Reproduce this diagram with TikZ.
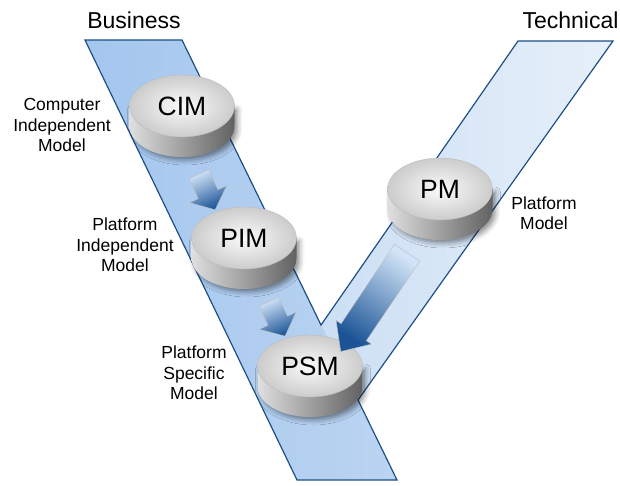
\documentclass[tikz,border=0pt]{standalone}
\usepackage{fontspec}
\setmainfont{Liberation Sans}
\usetikzlibrary{positioning,calc,shapes.geometric,shapes.arrows,shadows.blur}
\definecolor{bandleft}{HTML}{A4C6EE}
\definecolor{bandleftlight}{HTML}{BBD4F1}
\definecolor{bandright}{HTML}{CCDFF4}
\definecolor{bandrightlight}{HTML}{E7F0FA}
\definecolor{bandedge}{HTML}{1D4F87}
\definecolor{arrowtail}{HTML}{D2E4F7}
\definecolor{arrowtip}{HTML}{1B5496}

\begin{document}
\begin{tikzpicture}[x=1pt, y=1pt,
        disc/.style={ellipse, minimum width=105pt, minimum height=62pt, inner sep=0pt,
            inner color=gray!4, outer color=gray!40, draw=gray!55, line width=0.3pt,
            font=\fontsize{26.5}{30}\selectfont},
        discside/.style={left color=gray!25, middle color=gray!42, right color=black!62,
            blur shadow={shadow xshift=3pt, shadow yshift=-3pt, shadow blur radius=5pt, shadow opacity=45}},
        flow/.style={single arrow, sloped, allow upside down, inner sep=0pt, minimum width=0pt,
            text depth=0pt, top color=arrowtail, bottom color=arrowtip, draw=black!25, line width=0.4pt},
        note/.style={align=center, font=\fontsize{17.5}{20.5}\selectfont},
        heading/.style={font=\fontsize{23}{26}\selectfont}]
        \useasboundingbox (0,0) rectangle (620,-485);
        \shade[left color=bandright, right color=bandrightlight]
            (518,-41) -- (613,-41) -- (358,-400) -- (321,-325) -- cycle;
        \shade[left color=bandleft, right color=bandleftlight]
            (85,-40) -- (182,-40) -- (397,-480) -- (297,-480) -- cycle;
        \draw[bandedge, line width=1.2pt]
            (85,-40) -- (182,-40) -- (321,-325) -- (518,-41) -- (613,-41)
            -- (358,-400) -- (397,-480) -- (297,-480) -- cycle;
        \foreach \x/\y/\name/\txt in {182/-106/cim/CIM, 244/-238/pim/PIM, 440/-189/pm/PM, 310/-366/psm/PSM} {
            \shade[discside] ($(\x,\y)+(-52.5,0)$) -- ++(0,-20)
                arc[start angle=180, end angle=360, x radius=52.5, y radius=31] -- ++(0,20) -- cycle;
            \node[disc] (\name) at (\x,\y) {\txt};
        }
        \path ($(cim)+(-14,0)$) -- ($(pim)+(-16,0)$)
            node[flow, pos=0.62, minimum height=39pt, text height=21pt, shading angle=25,
                single arrow head extend=9.5pt, single arrow tip angle=100] (cimtopim) {};
        \path ($(pim)+(-5,0)$) -- ($(psm)+(-11,0)$)
            node[flow, pos=0.6, minimum height=38pt, text height=21pt, shading angle=25,
                single arrow head extend=9.5pt, single arrow tip angle=100] (pimtopsm) {};
        \path ($(pm)+(10,0)$) -- ($(psm)+(21,0)$)
            node[flow, pos=0.6, minimum height=119pt, text height=30pt, shading angle=-34,
                single arrow head extend=6pt, single arrow tip angle=85] (pmtopsm) {};
        \node[heading] (business) at (134,-20.5) {Business};
        \node[heading] (technical) at (570.5,-20.5) {Technical};
        \node[note] (cimnote) at (62,-125) {Computer\\Independent\\Model};
        \node[note] (pimnote) at (125,-245) {Platform\\Independent\\Model};
        \node[note] (psmnote) at (194,-373) {Platform\\Specific\\Model};
        \node[note] (pmnote) at (544,-213) {Platform\\Model};
    \end{tikzpicture}
\end{document}
